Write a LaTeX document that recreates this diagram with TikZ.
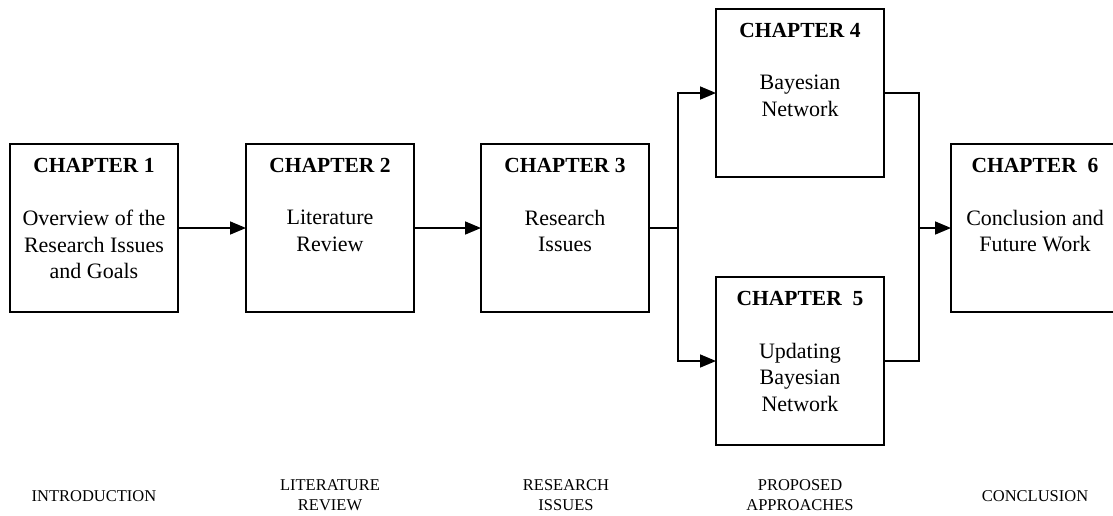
\documentclass[tikz,border=0pt]{standalone}
\usepackage{fontspec}
\setmainfont{Liberation Serif}
\usetikzlibrary{arrows.meta}
\tikzset{
  box/.style={draw, line width=1.6pt, minimum width=168pt, minimum height=168pt, inner sep=0pt, outer sep=0pt, anchor=north west},
  ttl/.style={font=\bfseries\fontsize{21.5}{25}\selectfont, anchor=base, inner sep=0pt},
  body/.style={font=\fontsize{22}{26.5}\selectfont, align=center, anchor=north, inner sep=0pt},
  lab/.style={font=\fontsize{16.5}{20}\selectfont, align=center, inner sep=0pt},
  wire/.style={line width=1.6pt},
  arr/.style={line width=1.6pt, -{Triangle[length=16pt,width=13pt]}}
}
\begin{document}
\begin{tikzpicture}[x=1pt,y=-1pt]
\useasboundingbox (0,0) rectangle (1113,515);
\node[box] (b1) at (10,144) {};
\node[box] (b2) at (246,144) {};
\node[box] (b3) at (481,144) {};
\node[box] (b4) at (716,9) {};
\node[box] (b5) at (716,277) {};
\node[box] (b6) at (951,144) {};
\foreach \b/\t in {b1/CHAPTER 1, b2/CHAPTER 2, b3/CHAPTER 3, b4/CHAPTER 4, b5/CHAPTER\ \ 5, b6/CHAPTER\ \ 6}{
  \node[ttl] (\b t) at ([yshift=-28pt]\b.north) {\t};
}
\node[body] (b1x) at ([yshift=-66pt]b1.north) {Overview of the\\Research Issues\\and Goals};
\node[body] (b2x) at ([yshift=-66pt]b2.north) {Literature\\Review};
\node[body] (b3x) at ([yshift=-66pt]b3.north) {Research\\Issues};
\node[body] (b4x) at ([yshift=-66pt]b4.north) {Bayesian\\Network};
\node[body] (b5x) at ([yshift=-66pt]b5.north) {Updating\\Bayesian\\Network};
\node[body] (b6x) at ([yshift=-66pt]b6.north) {Conclusion and\\Future Work};
\node[lab] (l1) at (94,496) {INTRODUCTION};
\node[lab] (l2) at (330,495) {LITERATURE\\REVIEW};
\node[lab] (l3) at (566,495) {RESEARCH\\ISSUES};
\node[lab] (l4) at (800,495) {PROPOSED\\APPROACHES};
\node[lab] (l5) at (1035,496) {CONCLUSION};
\path (b3.east) ++(29,0) coordinate (j1);
\path (b6.west) ++(-32,0) coordinate (j2);
\draw[arr] (b1.east) -- (b2.west);
\draw[arr] (b2.east) -- (b3.west);
\draw[wire] (b3.east) -- (j1);
\draw[arr] (j1) |- (b4.west);
\draw[arr] (j1) |- (b5.west);
\draw[wire] (b4.east) -| (j2);
\draw[wire] (b5.east) -| (j2);
\draw[arr] (j2) -- (b6.west);
\end{tikzpicture}
\end{document}
